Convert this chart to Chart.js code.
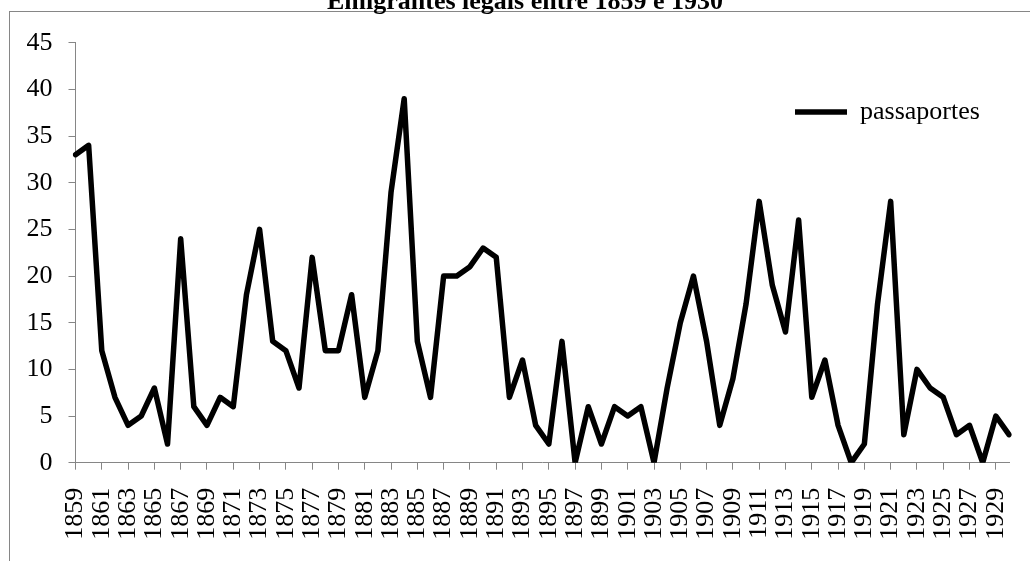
<!DOCTYPE html>
<html>
<head>
<meta charset="utf-8">
<title>Emigrantes legais entre 1859 e 1930</title>
<script src="https://cdn.jsdelivr.net/npm/chart.js@4/dist/chart.umd.min.js"></script>
<style>
  html, body { margin: 0; padding: 0; background: #fff; overflow: hidden; }
  #chart { position: absolute; left: 0; top: -20px; }
</style>
</head>
<body>
<canvas id="chart" width="1030" height="581"></canvas>
<script>
// years on the x axis (every other one gets a label)
const years = [
  '1859', '1860', '1861', '1862', '1863', '1864', '1865', '1866', '1867', '1868',
  '1869', '1870', '1871', '1872', '1873', '1874', '1875', '1876', '1877', '1878',
  '1879', '1880', '1881', '1882', '1883', '1884', '1885', '1886', '1887', '1888',
  '1889', '1890', '1891', '1892', '1893', '1894', '1895', '1896', '1897', '1898',
  '1899', '1900', '1901', '1902', '1903', '1904', '1905', '1906', '1907', '1908',
  '1909', '1910', '1911', '1912', '1913', '1914', '1915', '1916', '1917', '1918',
  '1919', '1920', '1921', '1922', '1923', '1924', '1925', '1926', '1927', '1928',
  '1929', '1930'
];

// passaportes per year
const passaportes = [
  33, 34, 12, 7, 4, 5, 8, 2, 24, 6,
  4, 7, 6, 18, 25, 13, 12, 8, 22, 12,
  12, 18, 7, 12, 29, 39, 13, 7, 20, 20,
  21, 23, 22, 7, 11, 4, 2, 13, 0, 6,
  2, 6, 5, 6, 0, 8, 15, 20, 13, 4,
  9, 17, 28, 19, 14, 26, 7, 11, 4, 0,
  2, 17, 28, 3, 10, 8, 7, 3, 4, 0,
  5, 3
];

const yMin = 0;
const yMax = 45;
const yStep = 5;

const axisGray = '#868686';
const serif = "'Liberation Serif', 'Times New Roman', serif";

// grey frame round the whole chart (only top and left edges are in view)
const chartFrame = {
  id: 'chartFrame',
  beforeDraw(chart) {
    const ctx = chart.ctx;
    ctx.save();
    ctx.strokeStyle = axisGray;
    ctx.lineWidth = 1;
    ctx.strokeRect(9.5, 31.5, 2000, 2000);
    ctx.restore();
  }
};

// title centred a bit right of the canvas middle, legend up in the top right
const boxPlace = {
  id: 'boxPlace',
  afterLayout(chart) {
    const t = chart.titleBlock;
    t.left = 41;
    t.right = chart.chartArea.right;

    const lg = chart.legend;
    lg.left = 785;
    lg.right = chart.width;
    lg.top = 109;
    lg.bottom = 170;
  }
};

const ctx = document.getElementById('chart').getContext('2d');

new Chart(ctx, {
  type: 'line',
  data: {
    labels: years,
    datasets: [{
      label: 'passaportes',
      data: passaportes,
      borderColor: '#000',
      backgroundColor: '#000',
      borderWidth: 5.5,
      borderJoinStyle: 'round',
      borderCapStyle: 'round',
      pointRadius: 0,
      pointHoverRadius: 0,
      pointStyle: 'line',
      tension: 0,
      fill: false
    }]
  },
  options: {
    responsive: false,
    animation: false,
    layout: {
      padding: { left: 0, right: 21, top: 0, bottom: 0 }
    },
    plugins: {
      title: {
        display: true,
        text: 'Emigrantes legais entre 1859 e 1930',
        color: '#000',
        font: { family: serif, size: 26, weight: 'bold', lineHeight: 1.2 },
        padding: { top: 6.6, bottom: 24.9 }
      },
      legend: {
        position: 'chartArea',
        align: 'start',
        labels: {
          color: '#000',
          font: { family: serif, size: 26 },
          usePointStyle: true,
          pointStyleWidth: 52,
          padding: 10
        }
      },
      tooltip: { enabled: false }
    },
    scales: {
      x: {
        type: 'category',
        offset: false,
        afterBuildTicks: (axis) => {
          axis.ticks = axis.ticks.filter(t => t.value % 2 === 0);
        },
        afterFit: (scale) => {
          scale.height = 98.3;
          scale.paddingLeft = 0;
          scale.paddingRight = 0;
        },
        grid: {
          display: true,
          drawOnChartArea: false,
          drawTicks: true,
          tickLength: 7,
          color: axisGray
        },
        border: { display: true, color: axisGray, width: 1 },
        ticks: {
          autoSkip: false,
          maxRotation: 90,
          minRotation: 90,
          padding: 18,
          color: '#000',
          font: { family: serif, size: 26 }
        }
      },
      y: {
        min: yMin,
        max: yMax,
        afterFit: (scale) => { scale.width = 75.5; },
        grid: {
          display: true,
          drawOnChartArea: false,
          drawTicks: true,
          tickLength: 7,
          color: axisGray
        },
        border: { display: true, color: axisGray, width: 1 },
        ticks: {
          stepSize: yStep,
          padding: 16,
          color: '#000',
          font: { family: serif, size: 26 }
        }
      }
    }
  },
  plugins: [chartFrame, boxPlace]
});
</script>
</body>
</html>
